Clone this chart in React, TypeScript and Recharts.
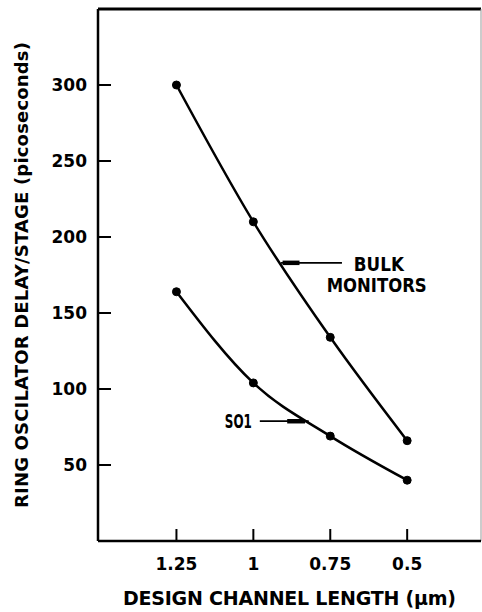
import React from "react";
import { LineChart, Line, XAxis, YAxis, ReferenceLine, ReferenceDot, Label } from "recharts";

const channelLengths = [1.25, 1, 0.75, 0.5];
const bulkDelay = [300, 210, 134, 66];
const soiDelay = [164, 104, 69, 40];
const yTicks = [50, 100, 150, 200, 250, 300];
const xTickLabels = ["1.25", "1", "0.75", "0.5"];

const data = channelLengths.map((x, i) => ({ x, bulk: bulkDelay[i], soi: soiDelay[i] }));

const FONT = "'DejaVu Sans', sans-serif";

const YTick = (props: any) => {
  const { x, y, payload } = props;
  return (
    <g>
      <line x1={x + 11} x2={x + 24} y1={y} y2={y} stroke="#000" strokeWidth={2} />
      <text x={x} y={y} dy={6} textAnchor="end" fontFamily={FONT} fontWeight="bold" fontSize={17} fill="#000">
        {payload.value}
      </text>
    </g>
  );
};

const XTick = (props: any) => {
  const { x, y, payload } = props;
  return (
    <g>
      <line x1={x} x2={x} y1={y} y2={y - 12} stroke="#000" strokeWidth={2} />
      <text x={x} y={y + 29} textAnchor="middle" fontFamily={FONT} fontWeight="bold" fontSize={17} fill="#000">
        {xTickLabels[channelLengths.indexOf(payload.value)] ?? payload.value}
      </text>
    </g>
  );
};

const annot = (text: string, anchor: string, len: number) => (p: any) => {
  const vb = p.viewBox || {};
  return (
    <text
      x={vb.x}
      y={vb.y}
      dy={7}
      textAnchor={anchor}
      fontFamily={FONT}
      fontWeight="bold"
      fontSize={19}
      textLength={len}
      lengthAdjust="spacingAndGlyphs"
      fill="#000"
    >
      {text}
    </text>
  );
};

export default function App() {
  return (
    <div style={{ position: "absolute", left: 0, top: 0, background: "#fff" }}>
      <LineChart width={482} height={612} data={data} margin={{ top: 9, right: 1, bottom: 0, left: 0 }}>
        <XAxis
          dataKey="x"
          type="number"
          domain={[0.26, 1.505]}
          allowDataOverflow
          reversed
          ticks={channelLengths}
          tickSize={0}
          tickMargin={0}
          tick={<XTick />}
          height={71}
          axisLine={{ stroke: "#000", strokeWidth: 2.5 }}
        >
          <Label
            content={(p: any) => {
              const vb = p.viewBox;
              return (
                <text
                  x={vb.x + vb.width / 2}
                  y={598}
                  dy={7}
                  textAnchor="middle"
                  fontFamily={FONT}
                  fontWeight="bold"
                  fontSize={19}
                  textLength={333}
                  lengthAdjust="spacing"
                  fill="#000"
                >
                  DESIGN CHANNEL LENGTH (μm)
                </text>
              );
            }}
          />
        </XAxis>
        <YAxis
          type="number"
          domain={[0, 350]}
          ticks={yTicks}
          tickSize={0}
          tickMargin={11}
          tick={<YTick />}
          width={98}
          axisLine={{ stroke: "#000", strokeWidth: 2.5 }}
        >
          <Label
            content={(p: any) => {
              const vb = p.viewBox;
              const cx = vb.x + 21;
              const cy = vb.y + vb.height / 2;
              return (
                <text
                  x={cx}
                  y={cy}
                  dy={7}
                  transform={`rotate(-90 ${cx} ${cy})`}
                  textAnchor="middle"
                  fontFamily={FONT}
                  fontWeight="bold"
                  fontSize={18}
                  textLength={466}
                  lengthAdjust="spacing"
                  fill="#000"
                >
                  RING OSCILATOR DELAY/STAGE (picoseconds)
                </text>
              );
            }}
          />
        </YAxis>
        <ReferenceLine y={350} stroke="#000" strokeWidth={3} />
        <ReferenceLine x={0.26} stroke="#999" strokeWidth={1} />
        <Line
          type="monotone"
          dataKey="bulk"
          stroke="#000"
          strokeWidth={2.5}
          dot={{ r: 4, fill: "#000", stroke: "#000", strokeWidth: 1 }}
          isAnimationActive={false}
        />
        <Line
          type="monotone"
          dataKey="soi"
          stroke="#000"
          strokeWidth={2.5}
          dot={{ r: 4, fill: "#000", stroke: "#000", strokeWidth: 1 }}
          isAnimationActive={false}
        />
        <ReferenceLine segment={[{ x: 0.91, y: 183 }, { x: 0.712, y: 183 }]} stroke="#000" strokeWidth={1.8} />
        <ReferenceLine segment={[{ x: 0.905, y: 183 }, { x: 0.85, y: 183 }]} stroke="#000" strokeWidth={4.5} />
        <ReferenceLine segment={[{ x: 0.979, y: 78.8 }, { x: 0.82, y: 78.8 }]} stroke="#000" strokeWidth={1.8} />
        <ReferenceLine segment={[{ x: 0.89, y: 78.8 }, { x: 0.832, y: 78.8 }]} stroke="#000" strokeWidth={4.5} />
        <ReferenceDot x={0.592} y={182} r={0} fill="none" stroke="none" label={annot("BULK", "middle", 50)} />
        <ReferenceDot x={0.599} y={168.5} r={0} fill="none" stroke="none" label={annot("MONITORS", "middle", 100)} />
        <ReferenceDot x={1.005} y={78.8} r={0} fill="none" stroke="none" label={annot("SO1", "end", 27)} />
      </LineChart>
    </div>
  );
}
